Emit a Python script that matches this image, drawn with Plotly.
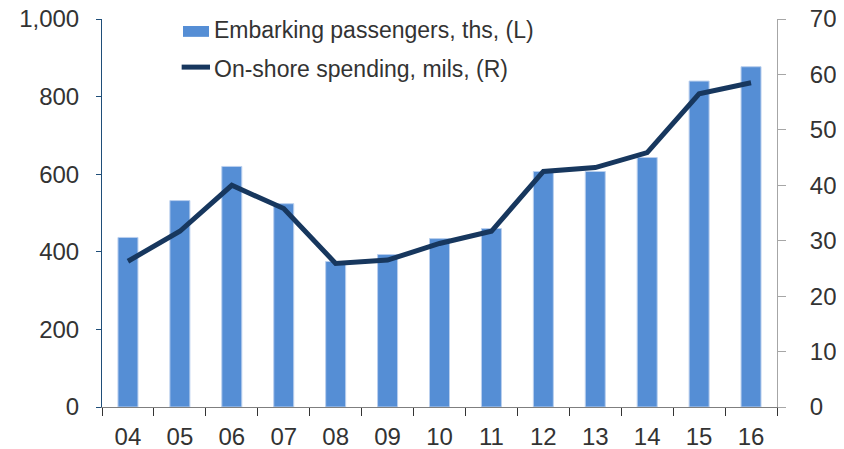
import plotly.graph_objects as go

years = ["04", "05", "06", "07", "08", "09", "10", "11", "12", "13", "14", "15", "16"]
passengers = [437, 532, 620, 524, 375, 393, 434, 460, 607, 607, 643, 840, 877]
spending = [26.3, 31.7, 40.0, 35.8, 25.9, 26.5, 29.5, 31.7, 42.5, 43.2, 45.9, 56.5, 58.5]

bar_name = "Embarking passengers, ths, (L)"
line_name = "On-shore spending, mils, (R)"

FONT = "Liberation Sans, Arial, sans-serif"
TXT = "#333333"
BAR_C = "#558ed5"
LINE_C = "#17375e"

fig = go.Figure()
fig.add_trace(go.Bar(
    x=years, y=passengers, name=bar_name,
    marker=dict(color=BAR_C, line=dict(color="#b9cfee", width=1)),
))
fig.add_trace(go.Scatter(
    x=years, y=spending, name=line_name, yaxis="y2",
    mode="lines", line=dict(color=LINE_C, width=5),
))

# legend drawn as paper-positioned symbols + text (keeps plot margins fixed)
fig.add_shape(type="rect", xref="paper", yref="paper",
              x0=0.120, x1=0.1585, y0=0.954, y1=0.982,
              fillcolor=BAR_C, line=dict(width=0))
fig.add_shape(type="line", xref="paper", yref="paper",
              x0=0.118, x1=0.160, y0=0.876, y1=0.876,
              line=dict(color=LINE_C, width=5))
fig.add_annotation(text=bar_name, xref="paper", yref="paper", x=0.163, y=0.971,
                   xanchor="left", yanchor="middle", showarrow=False,
                   font=dict(size=23, color=TXT, family=FONT))
fig.add_annotation(text=line_name, xref="paper", yref="paper", x=0.163, y=0.870,
                   xanchor="left", yanchor="middle", showarrow=False,
                   font=dict(size=23, color=TXT, family=FONT))

# page body has an 8px default margin, so the figure is 8px smaller than the window
fig.update_layout(
    width=836, height=441,
    margin=dict(l=94, r=67, t=11, b=42),
    paper_bgcolor="white", plot_bgcolor="white",
    font=dict(family=FONT, size=24, color=TXT),
    bargap=0.615,
    showlegend=False,
    xaxis=dict(
        type="category", showgrid=False, showline=True, linecolor="#7f7f7f", linewidth=1,
        ticks="outside", tickson="boundaries", ticklen=8, tickcolor="#333333",
        tickfont=dict(size=24, color=TXT), ticklabelstandoff=8, tickangle=0,
        automargin=False, ticklabeloverflow="allow",
    ),
    yaxis=dict(
        range=[0, 1000], dtick=200, tickformat=",", showgrid=False,
        showline=True, linecolor="#1f4e79", linewidth=1,
        ticks="outside", ticklen=5, tickcolor="#1f4e79",
        tickfont=dict(size=24, color=TXT), ticklabelstandoff=12, automargin=False,
        ticklabeloverflow="allow",
    ),
    yaxis2=dict(
        range=[0, 70], dtick=10, overlaying="y", side="right", showgrid=False,
        showline=True, linecolor="#a6a6a6", linewidth=1,
        ticks="outside", ticklen=8, tickcolor="#a6a6a6",
        tickfont=dict(size=24, color=TXT), ticklabelstandoff=19, automargin=False,
        ticklabeloverflow="allow",
    ),
)

fig.write_html("out.html")
